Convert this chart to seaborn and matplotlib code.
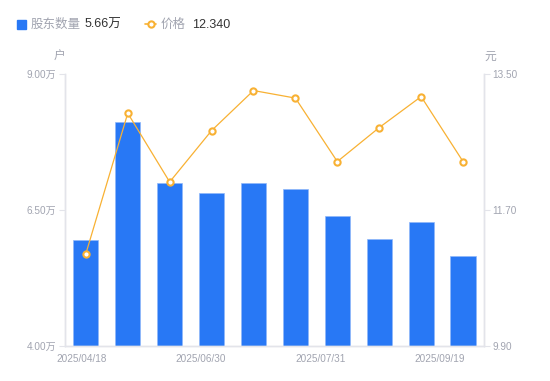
import pandas as pd
import matplotlib.pyplot as plt
import seaborn as sns

dates = ["2025/04/18", "2025/05/20", "2025/06/10", "2025/06/30", "2025/07/10",
         "2025/07/20", "2025/07/31", "2025/08/20", "2025/08/31", "2025/09/19"]
holders = [5.94, 8.11, 6.99, 6.81, 7.00, 6.88, 6.38, 5.97, 6.28, 5.66]  # 万户
price = [11.12, 12.98, 12.07, 12.75, 13.28, 13.18, 12.34, 12.79, 13.20, 12.34]
left_ticks = [4.00, 6.50, 9.00]
right_ticks = [9.90, 11.70, 13.50]
shown_dates = ["2025/04/18", "2025/06/30", "2025/07/31", "2025/09/19"]

BLUE = "#2878f5"
ORANGE = "#f8b133"
GREY = "#a1a4b0"
AXIS = "#e3e4ea"

sns.set_theme(style="white")
plt.rcParams["font.family"] = ["Liberation Sans", "Noto Sans CJK SC", "DejaVu Sans"]

df = pd.DataFrame({"date": dates, "holders": holders, "price": price})

fig = plt.figure(figsize=(5.5, 3.81), dpi=100)
ax = fig.add_axes([0.118, 0.092, 0.762, 0.714])

sns.barplot(data=df, x="date", y="holders", color=BLUE, saturation=1,
            width=0.6, edgecolor="#8fb8fa", linewidth=0.5, ax=ax)
ax.set_ylim(4.0, 9.0)
ax.set_xlim(-0.5, len(dates) - 0.5)
ax.set_yticks(left_ticks)
ax.set_yticklabels([f"{v:.2f}万" for v in left_ticks])
ax.set_xlabel("")
ax.set_ylabel("")

# date labels spread across the axis like the reference
pos = [-0.1, 2.75, 5.6, 8.45]
ax.set_xticks(pos)
ax.set_xticklabels(shown_dates)

ax2 = ax.twinx()
sns.lineplot(data=df, x="date", y="price", color=ORANGE, linewidth=0.9,
             marker="o", markersize=4.5, markerfacecolor="white",
             markeredgecolor=ORANGE, markeredgewidth=1.5, ax=ax2)
ax2.set_ylim(9.9, 13.5)
ax2.set_yticks(right_ticks)
ax2.set_yticklabels([f"{v:.2f}" for v in right_ticks])
ax2.set_xlabel("")
ax2.set_ylabel("")
ax2.set_xlim(-0.5, len(dates) - 0.5)

for a in (ax, ax2):
    for s in a.spines.values():
        s.set_color(AXIS)
        s.set_linewidth(1)
    a.spines["top"].set_visible(False)
    a.grid(False)
    a.tick_params(axis="y", colors=AXIS, labelcolor=GREY, labelsize=7.2,
                  length=4, width=0.8, pad=2)
    a.tick_params(axis="x", colors=AXIS, labelcolor=GREY, labelsize=7.2,
                  length=0, pad=6)

ax.text(-0.014, 1.04, "户", transform=ax.transAxes, color=GREY, fontsize=8.5,
        ha="center", va="bottom")
ax2.text(1.014, 1.04, "元", transform=ax2.transAxes, color=GREY, fontsize=8.5,
         ha="center", va="bottom")

# legend row
ly = 1 - 25 / 381
fig.patches.append(plt.Rectangle((17 / 550, 1 - 29 / 381), 9 / 550, 9 / 381,
                                 transform=fig.transFigure, color=BLUE))
fig.text(31 / 550, ly, "股东数量", color=GREY, fontsize=9, va="center")
fig.text(85 / 550, ly, "5.66万", color="#333333", fontsize=9, va="center")
fig.lines.append(plt.Line2D([145 / 550, 156 / 550], [1 - 24 / 381] * 2,
                            transform=fig.transFigure, color=ORANGE, linewidth=1.2))
fig.lines.append(plt.Line2D([150.5 / 550], [1 - 24 / 381], transform=fig.transFigure,
                            color=ORANGE, marker="o", markersize=4.5,
                            markerfacecolor="white", markeredgewidth=1.5))
fig.text(161 / 550, ly, "价格", color=GREY, fontsize=9, va="center")
fig.text(192 / 550, ly, "12.340", color="#333333", fontsize=9, va="center")

fig.savefig("out.png", dpi=100)
